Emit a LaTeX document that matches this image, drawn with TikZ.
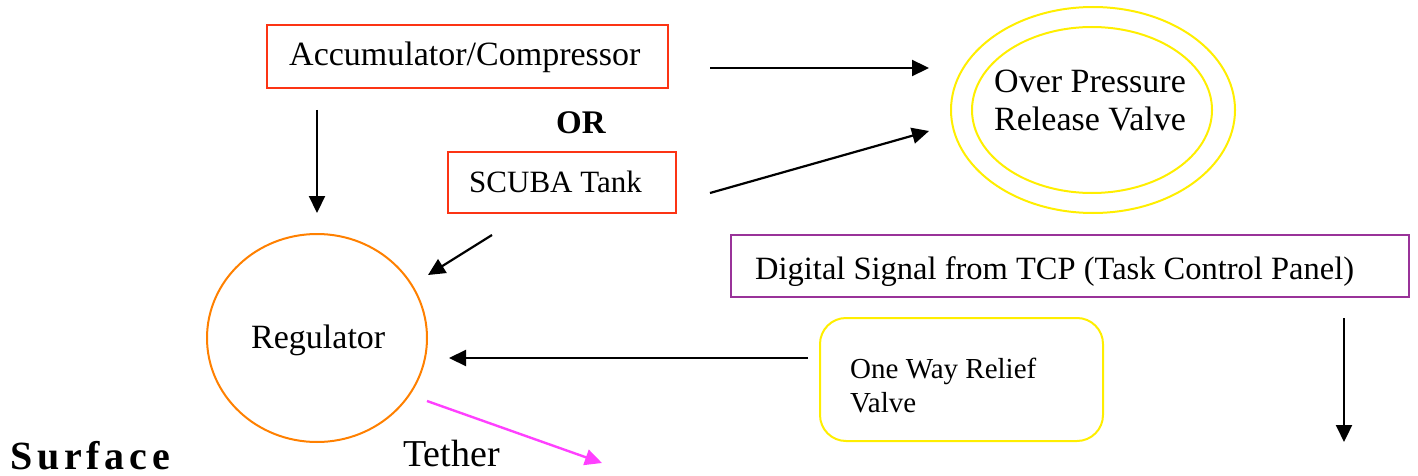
\documentclass[tikz,border=0pt]{standalone}
\usepackage{fontspec}
\setmainfont{Liberation Serif}
\usetikzlibrary{arrows.meta,shapes.geometric}

\definecolor{boxred}{RGB}{252,52,20}
\definecolor{valveyellow}{RGB}{255,238,0}
\definecolor{regorange}{RGB}{255,128,0}
\definecolor{signalpurple}{RGB}{153,51,153}
\definecolor{tethermagenta}{RGB}{255,64,255}

\tikzset{
  redbox/.style={draw=boxred, line width=2pt, rectangle, inner sep=0pt},
  purplebox/.style={draw=signalpurple, line width=2.4pt, rectangle, inner sep=0pt},
  yellowbox/.style={draw=valveyellow, line width=2pt, rectangle, rounded corners=26pt, inner sep=0pt},
  ring/.style={draw=valveyellow, line width=2pt, ellipse, inner sep=0pt},
  regcircle/.style={draw=regorange, line width=2pt, ellipse, inner sep=0pt},
  label/.style={inner sep=0pt, anchor=base west, align=left},
  flow/.style={line width=2.2pt, -{Triangle[length=17pt,width=16pt]}},
  tetherflow/.style={draw=tethermagenta, line width=2.4pt,
    -{Triangle[length=17pt,width=16pt]}},
}

\begin{document}
\begin{tikzpicture}[x=1pt,y=-1pt]
\useasboundingbox (0,0) rectangle (1418,476);

% supply boxes
\node[redbox, minimum width=401, minimum height=63] (acc) at (467.5,56.5) {};
\node[label, font=\fontsize{34}{38}\selectfont] (acctext) at (289,66) {Accumulator/Compressor};
\node[label, font=\fontsize{33}{38}\selectfont\bfseries] (ortext) at (556,133) {OR};
\node[redbox, minimum width=228, minimum height=61] (scuba) at (562,182.5) {};
\node[label, font=\fontsize{31}{36}\selectfont] (scubatext) at (469,192) {SCUBA Tank};

% over pressure release valve (base anchor sits on the last line)
\node[ring, minimum width=284, minimum height=206] (oprv) at (1093,110) {};
\node[ring, minimum width=240, minimum height=166] (oprvin) at (1092,110) {};
\node[label, font=\fontsize{34}{38}\selectfont] (oprvtext) at (994,131) {Over Pressure\\Release Valve};

% regulator
\node[regcircle, minimum width=220, minimum height=208] (reg) at (317,338) {};
\node[label, font=\fontsize{34}{38}\selectfont] (regtext) at (251,348) {Regulator};

% control signal and relief valve
\node[purplebox, minimum width=678, minimum height=62] (tcp) at (1070,266) {};
\node[label, font=\fontsize{32.5}{38}\selectfont] (tcptext) at (755,279) {Digital Signal from TCP (Task Control Panel)};
\node[yellowbox, minimum width=283, minimum height=123] (relief) at (961.5,379.5) {};
\node[label, font=\fontsize{29}{34}\selectfont] (relieftext) at (850,412) {One Way Relief\\Valve};

% bottom labels
\node[label, font=\fontsize{38}{42}\selectfont] (tethertext) at (403,466) {Tether};
\node[label, font=\fontsize{40}{44}\selectfont\bfseries\addfontfeature{LetterSpace=12}] (surfacetext) at (10,469) {Surface};

% connector end points
\coordinate (accdown) at (317,110);
\coordinate (regtop) at (317,213);
\coordinate (accout) at (710,68);
\coordinate (oprvtop) at (929,68);
\coordinate (scubaout) at (710,193);
\coordinate (oprvlow) at (929,131);
\coordinate (scubadown) at (492,235);
\coordinate (regright) at (428,275);
\coordinate (reliefout) at (808,358);
\coordinate (regin) at (449,358);
\coordinate (tcpdown) at (1344,318);
\coordinate (signalend) at (1344,442);
\coordinate (tetherstart) at (427,401);
\coordinate (tetherend) at (602,463);

% connectors
\draw[flow] (accdown) -- (regtop);
\draw[flow] (accout) -- (oprvtop);
\draw[flow] (scubaout) -- (oprvlow);
\draw[flow] (scubadown) -- (regright);
\draw[flow] (reliefout) -- (regin);
\draw[flow] (tcpdown) -- (signalend);
\draw[tetherflow] (tetherstart) -- (tetherend);
\end{tikzpicture}
\end{document}
